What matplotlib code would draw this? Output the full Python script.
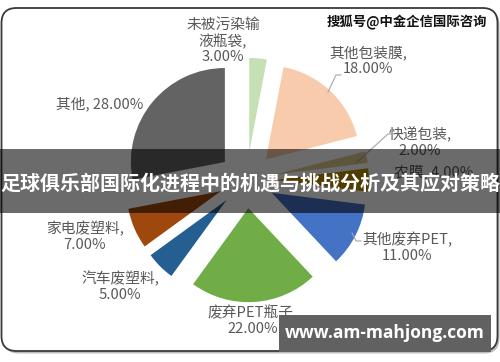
import matplotlib
matplotlib.use("Agg")
import matplotlib.pyplot as plt
from matplotlib.patches import FancyBboxPatch, Rectangle

plt.rcParams["font.family"] = ["Noto Sans CJK SC", "DejaVu Sans"]

# chart data
categories = ["未被污染输液瓶袋", "其他包装膜", "快递包装", "农膜", "其他废弃PET",
              "废弃PET瓶子", "汽车废塑料", "家电废塑料", "其他"]
shares = [3.0, 18.0, 2.0, 4.0, 11.0, 22.0, 5.0, 7.0, 28.0]
label_names = ["未被污染输\n液瓶袋,", "其他包装膜,", "快递包装,", "农膜,", "其他废弃PET,",
               "废弃PET瓶子,", "汽车废塑料,", "家电废塑料,", "其他,"]
label_seps = ["\n", "\n", "\n", " ", "\n", "\n", "\n", "\n", " "]
colors = ["#C5E0B4", "#F8CBAD", "#E0CB92", "#BF9000", "#4472C4",
          "#70AD47", "#255E91", "#9E480E", "#636363"]

title = "足球俱乐部国际化进程中的机遇与挑战分析及其应对策略"
watermark = "搜狐号@中金企信国际咨询"
site = "www.am-mahjong.com"

# layout, in image pixels (y measured from the top)
W, H = 500, 362
CX, CY, R = 246.6, 180.0, 94.0
EXPLODE = 0.3 * R
label_pos = [(223, 41), (368, 61), (420, 142), (434, 172), (407, 247),
             (253, 320), (120, 286), (85, 237), (100, 104)]
TEXT_GREY = "#595959"


def iy(y):
    return H - y


fig = plt.figure(figsize=(5, 3.62), dpi=100)
ax = fig.add_axes([0, 0, 1, 1])

# card frame with a soft shadow
shadow = FancyBboxPatch((3.5, iy(353.5)), 496, 344,
                        boxstyle="round,pad=0,rounding_size=15",
                        fc="#BDBDBD", ec="none", zorder=0)
ax.add_patch(shadow)
card = FancyBboxPatch((1.5, iy(351)), 496, 343,
                      boxstyle="round,pad=0,rounding_size=15",
                      fc="white", ec="#3A3A3A", lw=1.3, zorder=0.5)
ax.add_patch(card)

wedges, _ = ax.pie(shares, colors=colors, startangle=90, counterclock=False,
                   radius=R, center=(CX, iy(CY)),
                   explode=[EXPLODE] * len(shares),
                   wedgeprops=dict(linewidth=0), frame=True)
for w in wedges:
    w.set_zorder(1)

for name, sep, val, (lx, ly) in zip(label_names, label_seps, shares, label_pos):
    ax.text(lx, iy(ly), f"{name}{sep}{val:.2f}%", ha="center", va="center",
            fontsize=10.6, color=TEXT_GREY, linespacing=1.15, zorder=2)

# leader lines
ax.plot([341, 336, 328], [iy(75), iy(75), iy(92)], color="#A6A6A6", lw=0.8, zorder=2)
ax.plot([394, 388, 356], [iy(134), iy(134), iy(163)], color="#A6A6A6", lw=0.8, zorder=2)
ax.plot([352, 356, 361], [iy(233), iy(241), iy(241)], color="#A6A6A6", lw=0.8, zorder=2)

# title banner
ax.add_patch(Rectangle((0, iy(213)), W, 64, fc="black", alpha=0.58, ec="none", zorder=5))
ax.text(W / 2, iy(184), title, ha="center", va="center", fontsize=14.4,
        fontweight="bold", color="white", zorder=6)

ax.text(487, iy(22), watermark, ha="right", va="center", fontsize=9.6,
        fontweight="bold", color="#111111", zorder=6)

ax.add_patch(Rectangle((279, iy(352)), 212, 37, fc="#616161", ec="none", zorder=7))
ax.text(385, iy(333.5), site, ha="center", va="center", fontsize=12.5,
        fontweight="bold", color="white", family="Open Sans", zorder=8)

ax.set_xlim(0, W)
ax.set_ylim(0, H)
ax.set_aspect("auto")
ax.axis("off")

fig.savefig("out.png", dpi=100)
